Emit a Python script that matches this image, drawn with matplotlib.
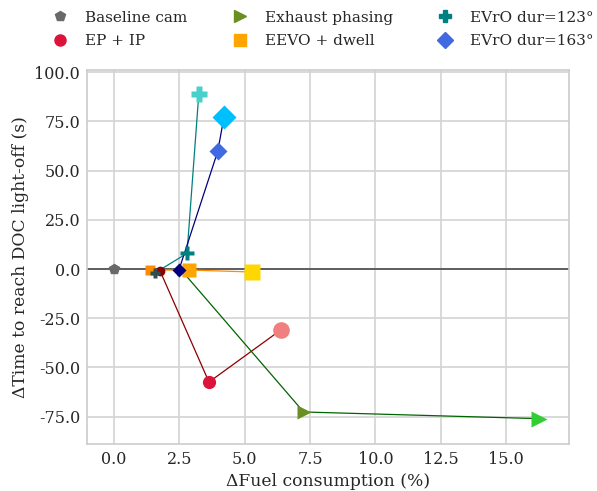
import numpy as np
import matplotlib
matplotlib.use("Agg")
from matplotlib import pyplot as plt
from matplotlib.lines import Line2D

plt.rcParams["font.family"] = ["DejaVu Serif"]
plt.rcParams["text.color"] = "0.15"
plt.rcParams["axes.labelcolor"] = "0.15"
plt.rcParams["xtick.color"] = "0.15"
plt.rcParams["ytick.color"] = "0.15"

# fuel penalty (%) and light-off time change (s) for each strategy, three steps each
baseline_fuel = [0.0]
baseline_time = [0.0]

epip_fuel = [1.76, 3.63, 6.37]
epip_time = [-1.0, -57.4, -31.0]

exh_fuel = [2.6, 7.25, 16.26]
exh_time = [-1.0, -72.6, -76.0]

eevo_fuel = [1.37, 2.86, 5.27]
eevo_time = [-0.5, -0.5, -1.5]

evro123_fuel = [1.56, 2.79, 3.24]
evro123_time = [-2.0, 8.0, 88.8]

evro163_fuel = [2.48, 3.97, 4.20]
evro163_time = [-0.5, 60.0, 77.0]

labels = ["Baseline cam", "EP + IP", "Exhaust phasing", "EEVO + dwell",
          "EVrO dur=123°", "EVrO dur=163°"]

series = [
    (epip_fuel, epip_time, "o", "darkred", ["darkred", "crimson", "lightcoral"]),
    (exh_fuel, exh_time, ">", "darkgreen", ["darkolivegreen", "olivedrab", "limegreen"]),
    (eevo_fuel, eevo_time, "s", "darkorange", ["darkorange", "orange", "gold"]),
    (evro123_fuel, evro123_time, "P", "teal", ["darkslategrey", "teal", "mediumturquoise"]),
    (evro163_fuel, evro163_time, "D", "navy", ["navy", "royalblue", "deepskyblue"]),
]
sizes = [7, 9.5, 12]

fig = plt.figure(figsize=(5.97, 4.91), dpi=100)
ax = fig.add_axes([0.146, 0.096, 0.807, 0.761])

ax.axhline(0, color="#555555", lw=1.3, zorder=1)
ax.plot(baseline_fuel, baseline_time, "p", color="dimgrey", ms=7, zorder=3)

for fuel, time, marker, line_color, colors in series:
    ax.plot(fuel, time, "-", color=line_color, lw=0.9, zorder=2)
    for x, y, c, s in zip(fuel, time, colors, sizes):
        ax.plot(x, y, marker, color=c, ms=s, mec="none", zorder=3)

ax.set_xlim(-1.03, 17.4)
ax.set_ylim(-88.8, 101)
ax.set_xticks(np.arange(0, 17, 2.5))
ax.set_yticks(np.arange(-75, 101, 25))
ax.set_xticklabels([f"{v:.1f}" for v in np.arange(0, 17, 2.5)])
ax.set_yticklabels([f"{v:.1f}" for v in np.arange(-75, 101, 25)])
ax.grid(True, color="#d3d3d3", lw=1.2)
ax.set_axisbelow(True)
for sp in ax.spines.values():
    sp.set_color("#cccccc")
    sp.set_linewidth(1.2)
ax.tick_params(length=0, labelsize=11.5, pad=5)
ax.set_xlabel("ΔFuel consumption (%)", fontsize=12.3)
ax.set_ylabel("ΔTime to reach DOC light-off (s)", fontsize=12.3)

handles = [
    Line2D([], [], ls="none", marker="p", color="dimgrey", ms=7),
    Line2D([], [], ls="none", marker="o", color="crimson", ms=8),
    Line2D([], [], ls="none", marker=">", color="olivedrab", ms=8),
    Line2D([], [], ls="none", marker="s", color="orange", ms=8),
    Line2D([], [], ls="none", marker="P", color="teal", ms=8),
    Line2D([], [], ls="none", marker="D", color="royalblue", ms=8),
]
fig.legend(handles, labels, ncol=3,
           loc="upper center", bbox_to_anchor=(0.535, 1.006), frameon=False,
           fontsize=11, handletextpad=0.65, columnspacing=2.4, labelspacing=0.62)

fig.savefig("out.png", dpi=100)
